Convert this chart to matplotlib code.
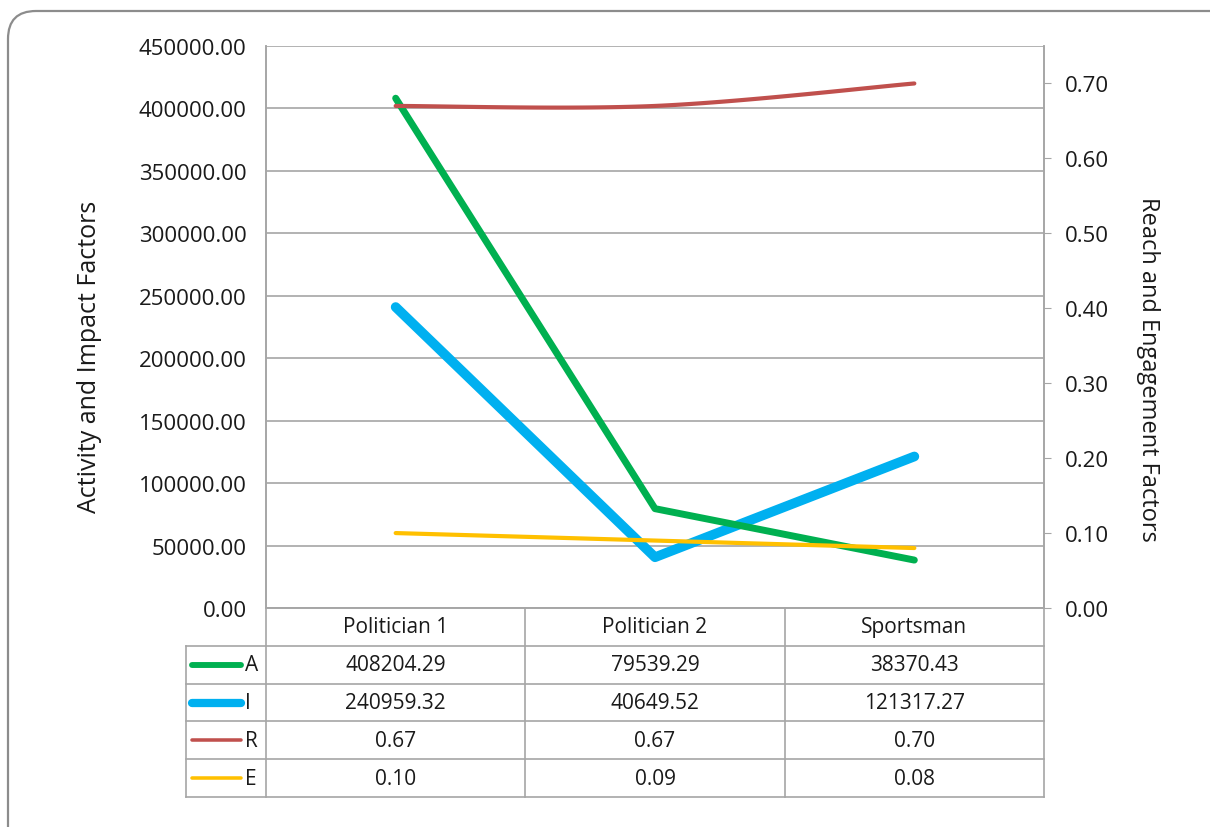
import matplotlib.pyplot as plt
import numpy as np
from matplotlib.patches import FancyBboxPatch

plt.rcParams['font.family'] = ['Open Sans', 'DejaVu Sans']

# data
categories = ["Politician 1", "Politician 2", "Sportsman"]
series_names = ["A", "I", "R", "E"]
a_vals = [408204.29, 79539.29, 38370.43]
i_vals = [240959.32, 40649.52, 121317.27]
r_vals = [0.67, 0.67, 0.70]
e_vals = [0.10, 0.09, 0.08]

colors = {"A": "#00B050", "I": "#00B0F0", "R": "#C0504D", "E": "#FFC000"}
widths = {"A": 5.0, "I": 7.0, "R": 3.0, "E": 3.0}
grid_c = "#a6a6a6"
txt_c = "#1a1a1a"


def catmull_rom(xs, ys, n=40):
    """Excel-like smoothed line through the points."""
    xs = np.asarray(xs, float)
    ys = np.asarray(ys, float)
    px = np.concatenate([[xs[0]], xs, [xs[-1]]])
    py = np.concatenate([[ys[0]], ys, [ys[-1]]])
    out_x, out_y = [], []
    for k in range(1, len(px) - 2):
        t = np.linspace(0, 1, n)
        h00 = 2 * t**3 - 3 * t**2 + 1
        h10 = t**3 - 2 * t**2 + t
        h01 = -2 * t**3 + 3 * t**2
        h11 = t**3 - t**2
        mx0 = (px[k + 1] - px[k - 1]) / 2
        mx1 = (px[k + 2] - px[k]) / 2
        my0 = (py[k + 1] - py[k - 1]) / 2
        my1 = (py[k + 2] - py[k]) / 2
        out_x.append(h00 * px[k] + h10 * mx0 + h01 * px[k + 1] + h11 * mx1)
        out_y.append(h00 * py[k] + h10 * my0 + h01 * py[k + 1] + h11 * my1)
    return np.concatenate(out_x), np.concatenate(out_y)


W, H = 1210, 828
fig = plt.figure(figsize=(W / 100, H / 100), dpi=100)

# rounded outer frame
frame = FancyBboxPatch((0.08, -0.6), 13.0, 8.16 + 0.6,
                       boxstyle="round,pad=0,rounding_size=0.28",
                       transform=fig.dpi_scale_trans, facecolor="none",
                       edgecolor="#8c8c8c", linewidth=1.6)
fig.patches.append(frame)

x0, x1, ytop, ybot = 266, 1044, 47, 609
ax = fig.add_axes([x0 / W, 1 - ybot / H, (x1 - x0) / W, (ybot - ytop) / H])
ax2 = ax.twinx()

xs = np.arange(len(categories))
ax.plot(xs, a_vals, color=colors["A"], lw=widths["A"], solid_capstyle="round",
        solid_joinstyle="round", zorder=3)
ax.plot(xs, i_vals, color=colors["I"], lw=widths["I"], solid_capstyle="round",
        solid_joinstyle="round", zorder=2)
sx, sy = catmull_rom(xs, r_vals)
ax2.plot(sx, sy, color=colors["R"], lw=widths["R"], solid_capstyle="round")
ax2.plot(xs, e_vals, color=colors["E"], lw=widths["E"], solid_capstyle="round")

ax.set_xlim(-0.5, 2.5)
ax.set_ylim(0, 450000)
ax.set_yticks(np.arange(0, 450001, 50000))
ax.set_yticklabels([f"{v:.2f}" for v in np.arange(0, 450001, 50000)])
ax2.set_ylim(0, 0.75)
ax2.set_yticks(np.arange(0, 0.71, 0.1))
ax2.set_yticklabels([f"{v:.2f}" for v in np.arange(0, 0.71, 0.1)])
ax.set_xticks([])
ax.grid(axis="y", color=grid_c, lw=1.2)
ax.set_axisbelow(True)

for a in (ax, ax2):
    for s in a.spines.values():
        s.set_color(grid_c)
        s.set_linewidth(1.2)
    a.spines["top"].set_visible(False)
ax.tick_params(axis="y", length=0, pad=14, labelsize=16, labelcolor=txt_c)
ax2.tick_params(axis="y", length=5, color=grid_c, pad=10, labelsize=16,
                labelcolor=txt_c)

fig.text(90 / W, 1 - 357 / H, "Activity and Impact Factors", rotation=90,
         ha="center", va="center", fontsize=18, color=txt_c)
fig.text(1148 / W, 1 - 369 / H, "Reach and Engagement Factors", rotation=270,
         ha="center", va="center", fontsize=17, color=txt_c)

# data table below the plot
tl = 186
extra = (x0 - tl) / ((x1 - x0) / 3)
tb = 798
tax = fig.add_axes([tl / W, 1 - tb / H, (x1 - tl) / W, (tb - ybot) / H])
tax.set_xlim(-0.5 - extra, 2.5)
tax.set_ylim(5, 0)
tax.axis("off")

for xv in [-0.5, 0.5, 1.5, 2.5]:
    tax.plot([xv, xv], [0, 5], color=grid_c, lw=1.2, clip_on=False)
tax.plot([-0.5 - extra] * 2, [1, 5], color=grid_c, lw=1.2, clip_on=False)
for yv in [1, 2, 3, 4, 5]:
    tax.plot([-0.5 - extra, 2.5], [yv, yv], color=grid_c, lw=1.2, clip_on=False)

for j, c in enumerate(categories):
    tax.text(j, 0.5, c, ha="center", va="center", fontsize=15, color=txt_c)

rows = [a_vals, i_vals, r_vals, e_vals]
unit = (x1 - x0) / 3
for r, (name, vals) in enumerate(zip(series_names, rows)):
    yc = r + 1.5
    kx0 = -0.5 + (192 - x0) / unit
    kx1 = -0.5 + (241 - x0) / unit
    tax.plot([kx0, kx1], [yc, yc], color=colors[name],
             lw=widths[name] * 0.85, solid_capstyle="round")
    tax.text(-0.5 + (245 - x0) / unit, yc, name, ha="left", va="center",
             fontsize=15, color=txt_c)
    for j, v in enumerate(vals):
        tax.text(j, yc, f"{v:.2f}", ha="center", va="center", fontsize=15,
                 color=txt_c)

fig.savefig("out.png", dpi=100)
